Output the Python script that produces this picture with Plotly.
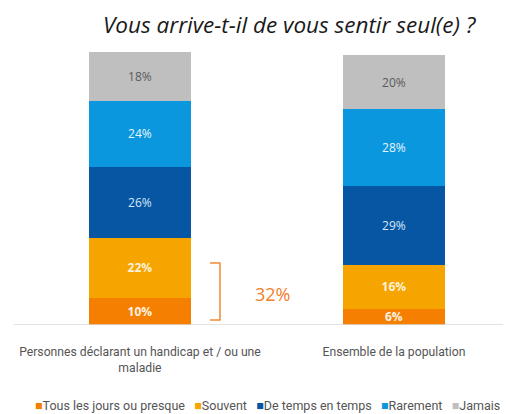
import plotly.graph_objects as go

categories = ["Personnes déclarant un handicap et / ou une<br>maladie", "Ensemble de la population"]
series_names = ["Tous les jours ou presque", "Souvent", "De temps en temps", "Rarement", "Jamais"]
tous_les_jours = [10, 6]
souvent = [22, 16]
de_temps = [26, 29]
rarement = [24, 28]
jamais = [18, 20]
values = [tous_les_jours, souvent, de_temps, rarement, jamais]
colors = ["#F47F00", "#F5A400", "#0656A4", "#0B97DD", "#BFBFBF"]
text_colors = ["#FFF2E0", "#FFF2D8", "#D8E6F4", "#E6F4FC", "#5A5A5A"]
bold = [True, True, False, False, False]
bracket_total = 32

# page body has an 8px margin: figure is drawn offset by (8, 8)
W, H = 503, 406
L, R, T, B = 6, 1, 44, 89
xr = [-0.496, 1.457]

def px(xp):
    return (xp - L) / (W - L - R)

def py(yp):
    return (H - yp - B) / (H - T - B)

fig = go.Figure()
xpos = list(range(len(categories)))
for name, vals, c, tc, b in zip(series_names, values, colors, text_colors, bold):
    fig.add_trace(go.Bar(
        x=xpos, y=vals, name=name, marker=dict(color=c, line=dict(width=0)),
        width=0.40,
        text=[(f"<b>{v}%</b>" if b else f"{v}%") for v in vals],
        textposition="inside", insidetextanchor="middle", constraintext="none",
        cliponaxis=False,
        textfont=dict(color=tc, size=12, family="Open Sans"),
        showlegend=False, hoverinfo="skip",
    ))

fig.update_layout(
    barmode="stack", width=W, height=H,
    margin=dict(l=L, r=R, t=T, b=B, autoexpand=False),
    plot_bgcolor="white", paper_bgcolor="white",
    xaxis=dict(range=xr, tickmode="array", tickvals=xpos, ticktext=categories,
               showgrid=False, zeroline=False, showline=False,
               ticks="outside", ticklen=15, tickcolor="rgba(0,0,0,0)", automargin=False,
               tickfont=dict(size=12.2, color="#555555", family="Roboto"), fixedrange=True),
    yaxis=dict(range=[0, 100], visible=False, fixedrange=True, automargin=False),
)

# baseline
fig.add_shape(type="line", xref="paper", yref="y", x0=0, x1=1, y0=0, y1=0,
              line=dict(color="#D9D9D9", width=1.5))

# bracket
bx0, bx1 = 0.276, 0.315
fig.add_shape(type="path", xref="x", yref="y",
              path=f"M {bx0} 22.7 L {bx1} 22.7 L {bx1} 1.8 L {bx0} 1.8",
              line=dict(color="#F28A30", width=1.5))
fig.add_annotation(x=0.522, y=11.5, xref="x", yref="y", text=f"{bracket_total}%",
                   showarrow=False, xanchor="center", yanchor="middle",
                   font=dict(size=18, color="#F0802A", family="Open Sans"))

# title
fig.add_annotation(x=px(282), y=py(17), xref="paper", yref="paper",
                   text="<i>Vous arrive-t-il de vous sentir seul(e) ?</i>",
                   showarrow=False, xanchor="center", yanchor="middle",
                   font=dict(size=22.5, color="#1A1A1A", family="Open Sans"))

# legend
legend_text = "&nbsp;&nbsp;&nbsp;".join(f"<span style='color:{c}'>■</span>{n}" for n, c in zip(series_names, colors))
fig.add_annotation(x=px(259), y=py(397), xref="paper", yref="paper",
                   text=legend_text, showarrow=False, xanchor="center", yanchor="middle",
                   font=dict(size=12.5, color="#555555", family="Roboto"))

fig.write_html("out.html")
